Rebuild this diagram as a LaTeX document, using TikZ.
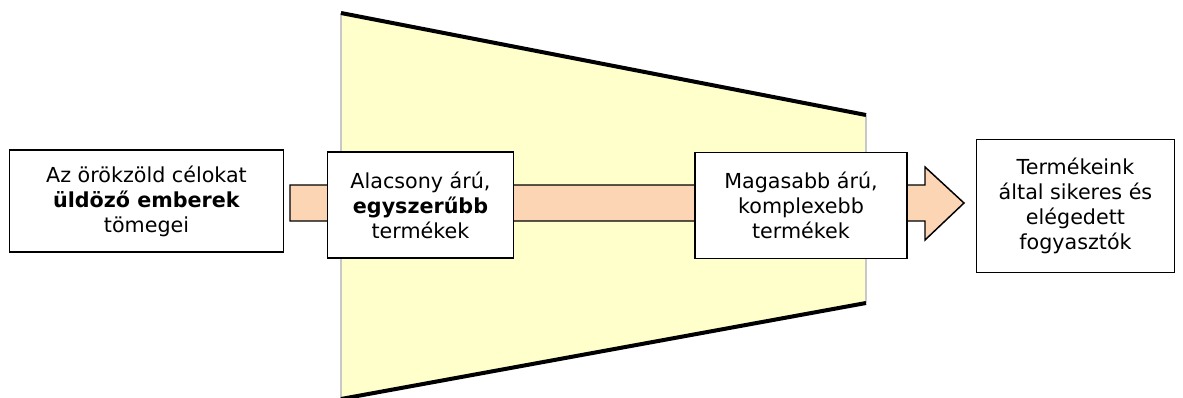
\documentclass[tikz,border=0pt]{standalone}
\usepackage{fontspec}
\setmainfont{DejaVu Sans}
\usepackage{xcolor}
\definecolor{FunnelYellow}{HTML}{FFFFCC}
\definecolor{FlowPeach}{HTML}{FCD5B5}
\definecolor{EdgeGray}{HTML}{C8C8C8}
\usepackage{tikz}
\usetikzlibrary{positioning, backgrounds, calc}
\tikzset{
  % Box styles
  stagebox/.style={rectangle, draw=black, fill=white, line width=0.9pt, align=center, inner sep=2pt, font=\fontsize{15.5}{18.8}\selectfont},
  % Funnel styles
  funnelfill/.style={fill=FunnelYellow, draw=none},
  funneledge/.style={draw=EdgeGray, line width=1pt},
  funnelrim/.style={draw=black, line width=3pt},
  % Arrow styles
  flowarrow/.style={fill=FlowPeach, draw=black, line width=1.1pt, line join=miter}
}
\begin{document}
\begin{tikzpicture}[x=0.75pt, y=-0.75pt]
  \useasboundingbox (0,0) rectangle (1183,397);

  % Funnel
  \coordinate (ftl) at (341,13);
  \coordinate (ftr) at (866,115);
  \coordinate (fbr) at (866,303);
  \coordinate (fbl) at (341,399);
  \fill[funnelfill] (ftl) -- (ftr) -- (fbr) -- (fbl) -- cycle;
  \draw[funneledge] (ftl) -- (fbl);
  \draw[funneledge] (ftr) -- (fbr);
  \draw[funnelrim] (ftl) -- (ftr);
  \draw[funnelrim] (fbl) -- (fbr);

  % Flow arrow
  \coordinate (tail) at (290,203);
  \coordinate (neck) at (925,203);
  \coordinate (tip) at (964,203);
  \draw[flowarrow] ($(tail)+(0,-18)$) -- ($(neck)+(0,-18)$) -- ($(neck)+(0,-36)$) -- (tip)
    -- ($(neck)+(0,37)$) -- ($(neck)+(0,18)$) -- ($(tail)+(0,18)$) -- cycle;

  % Boxes
  \node[stagebox, minimum width=205pt, minimum height=76.5pt] (crowd) at (146.5,201) {Az örökzöld célokat\\\textbf{üldöző emberek}\\tömegei};
  \node[stagebox, minimum width=139pt, minimum height=79.5pt] (simple) at (420.5,205) {Alacsony árú,\\\textbf{egyszerűbb}\\termékek};
  \node[stagebox, minimum width=159pt, minimum height=79pt] (complex) at (801,205.5) {Magasabb árú,\\komplexebb\\termékek};
  \node[stagebox, minimum width=149pt, minimum height=100pt] (users) at (1075.5,206) {Termékeink\\által sikeres és\\elégedett\\fogyasztók};
\end{tikzpicture}
\end{document}
